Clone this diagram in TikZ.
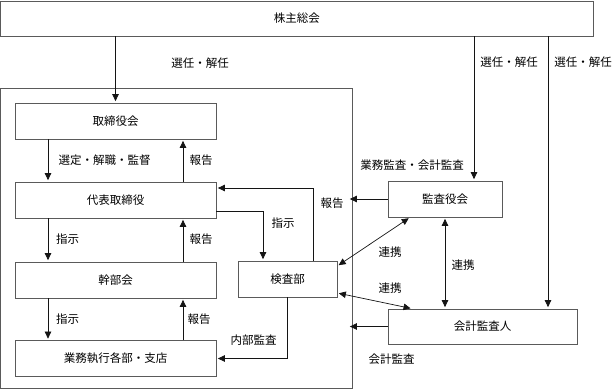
\documentclass[tikz,border=0pt]{standalone}
\usepackage{fontspec}
\setmainfont{Noto Sans CJK JP}
\usepackage{tikz}
\usetikzlibrary{calc,arrows.meta,positioning}
\definecolor{frameGray}{RGB}{90,90,90}
\definecolor{lineBlack}{RGB}{20,20,20}

\begin{document}
\begin{tikzpicture}[x=1pt,y=-1pt,
  font=\fontsize{11.5}{13}\selectfont,
  box/.style={draw=frameGray,line width=.75pt,fill=white,inner sep=0pt,minimum height=36pt},
  arr/.style={draw=lineBlack,line width=.7pt,-{Triangle[length=7pt,width=6.5pt]},shorten >=1.5pt},
  twoway/.style={draw=lineBlack,line width=.7pt,{Triangle[length=7pt,width=6.5pt]}-{Triangle[length=7pt,width=6.5pt]},shorten >=1.5pt,shorten <=1.5pt},
  lbl/.style={inner sep=0pt}]
\useasboundingbox (0,0) rectangle (612,391);
% frame of the company
\node[draw=frameGray,line width=.75pt,inner sep=0pt,minimum width=351.5pt,minimum height=300pt] (frame) at (176.25,238) {};
\node[box,minimum width=592.5pt,minimum height=35pt] (agm) at (296.75,18.5) {株主総会};
% inside the frame
\node[box,minimum width=201pt] (board) at (115.5,121) {取締役会};
\node[box,minimum width=201pt] (rep) at (115.5,200) {代表取締役};
\node[box,minimum width=201pt] (exec) at (115.5,280) {幹部会};
\node[box,minimum width=201pt] (ops) at (115.5,358.5) {業務執行各部・支店};
\node[box,minimum width=99pt] (audit) at (287.5,279) {検査部};
% outside the frame
\node[box,minimum width=114pt] (kansa) at (445,199) {監査役会};
\node[box,minimum width=189pt,minimum height=35pt] (acct) at (482.5,326.5) {会計監査人};

% elections
\draw[arr] (board.north |- agm.south) -- (board.north);
\draw[arr] ([xshift=29pt]kansa.north |- agm.south) -- ([xshift=29pt]kansa.north);
\draw[arr] ([xshift=65.5pt]acct.north |- agm.south) -- ([xshift=65.5pt]acct.north);
\node[lbl] (electBoard) at (200,63) {選任・解任};
\node[lbl] (electKansa) at (509,62) {選任・解任};
\node[lbl] (electAcct) at (583,62) {選任・解任};

% chain of command
\draw[arr] ([xshift=-67.5pt]board.south) -- ([xshift=-67.5pt]rep.north);
\draw[arr] ([xshift=67.5pt]rep.north) -- ([xshift=67.5pt]board.south);
\draw[arr] ([xshift=-67.5pt]rep.south) -- ([xshift=-67.5pt]exec.north);
\draw[arr] ([xshift=67.5pt]exec.north) -- ([xshift=67.5pt]rep.south);
\draw[arr] ([xshift=-67.5pt]exec.south) -- ([xshift=-67.5pt]ops.north);
\draw[arr] ([xshift=67.5pt]ops.north) -- ([xshift=67.5pt]exec.south);
\node[lbl] (superviseLbl) at (104.5,160) {選定・解職・監督};
\node[lbl] (reportA) at (201,160) {報告};
\node[lbl] (orderA) at (67.5,239) {指示};
\node[lbl] (reportB) at (201,239) {報告};
\node[lbl] (orderB) at (67.5,319) {指示};
\node[lbl] (reportC) at (199,319) {報告};

% inspection department
\draw[arr] ([yshift=-11pt]rep.east) -| ([xshift=-24.5pt]audit.north);
\draw[arr] ([xshift=25.5pt]audit.north) |- ([yshift=12pt]rep.east);
\draw[arr] (audit.south) |- (ops.east);
\node[lbl] (orderC) at (283,223) {指示};
\node[lbl] (reportD) at (332,203) {報告};
\node[lbl] (internalLbl) at (253.5,340) {内部監査};

% auditors
\draw[arr,shorten >=-2.5pt] (kansa.west) -- (frame.east |- kansa.west);
\draw[arr,shorten >=-2.5pt] (acct.west) -- (frame.east |- acct.west);
\draw[twoway] ([xshift=-35pt]kansa.south) -- ([yshift=13pt]audit.east);
\draw[twoway] ([xshift=-70.5pt]acct.north) -- ([yshift=-14pt]audit.east);
\draw[twoway] (kansa.south) -- (kansa.south |- acct.north);
\node[lbl] (bizAuditLbl) at (412,165) {業務監査・会計監査};
\node[lbl] (linkA) at (390,252) {連携};
\node[lbl] (linkB) at (463,265) {連携};
\node[lbl] (linkC) at (390,288) {連携};
\node[lbl] (acctAuditLbl) at (391.5,359) {会計監査};
\end{tikzpicture}
\end{document}
